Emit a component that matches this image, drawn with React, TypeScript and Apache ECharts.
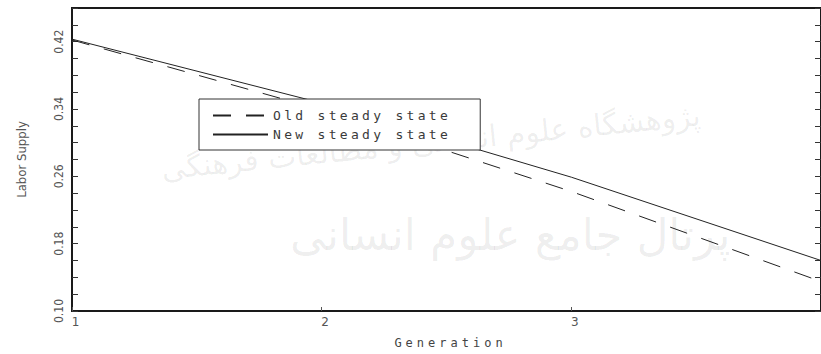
import React, { useEffect, useRef } from "react";
import * as echarts from "echarts";

// Labor supply by generation under the two steady states
const generations = [1, 2, 3, 4];
const oldSteadyState = [0.422, 0.339, 0.242, 0.135];
const newSteadyState = [0.423, 0.347, 0.259, 0.16];
const seriesNames = ["Old steady state", "New steady state"];

const Y_MIN = 0.1;
const Y_MAX = 0.46;
const Y_STEP = 0.02;
const Y_LABEL_EVERY = 4; // a label on every 0.08

const watermarkTop = "پژوهشگاه علوم انسانی و مطالعات فرهنگی";
const watermarkBottom = "پرتال جامع علوم انسانی";

const narrow = "'Liberation Sans Narrow', 'DejaVu Sans Condensed', 'Liberation Sans', sans-serif";
const plotter = "DejaVu Sans Mono";

export default function App() {
  const ref = useRef<HTMLDivElement>(null);

  useEffect(() => {
    if (!ref.current) return;
    const chart = echarts.init(ref.current, undefined, { renderer: "svg" });

    const yLabel = (v: number) => {
      const k = Math.round((v - Y_MIN) / Y_STEP);
      return k % Y_LABEL_EVERY === 0 && v < 0.44 ? v.toFixed(2) : "";
    };

    const yAxisBase = {
      type: "value" as const,
      min: Y_MIN,
      max: Y_MAX,
      interval: Y_STEP,
      splitLine: { show: false },
      axisLine: { show: true, lineStyle: { color: "#1a1a1a", width: 2 } },
      axisTick: { show: true, inside: true, length: 6, lineStyle: { color: "#333", width: 1 } },
    };

    chart.setOption({
      animation: false,
      backgroundColor: "#ffffff",
      grid: {
        left: 72,
        right: -5,
        top: 8,
        bottom: 41,
        show: true,
        borderColor: "#1a1a1a",
        borderWidth: 2,
        containLabel: false,
      },
      legend: {
        orient: "vertical",
        left: 199,
        top: 99,
        data: seriesNames,
        itemWidth: 55,
        itemHeight: 10,
        itemGap: 6,
        padding: [10, 82, 9, 13],
        borderColor: "#333",
        borderWidth: 1,
        backgroundColor: "#ffffff",
        itemStyle: { opacity: 0 },
        textStyle: { fontFamily: plotter, fontSize: 13, color: "#3a3a3a" },
        z: 5,
      },
      xAxis: {
        type: "value",
        min: 1,
        max: 4,
        interval: 1,
        name: "Generation",
        nameLocation: "middle",
        nameGap: 26,
        nameTextStyle: { fontFamily: plotter, fontSize: 12, color: "#444", padding: [0, 0, 0, 8] },
        splitLine: { show: false },
        axisLine: { show: true, onZero: false, lineStyle: { color: "#1a1a1a", width: 2 } },
        axisTick: { show: true, inside: true, length: 4, lineStyle: { color: "#555" } },
        axisLabel: {
          margin: 5,
          showMaxLabel: false,
          padding: [0, 0, 0, 7],
          fontFamily: "'DejaVu Sans', sans-serif",
          fontSize: 12,
          color: "#555",
          formatter: (v: number) => String(v),
        },
      },
      yAxis: [
        {
          ...yAxisBase,
          position: "left",
          name: "Labor Supply",
          nameLocation: "middle",
          nameGap: 44,
          nameRotate: 90,
          nameTextStyle: { fontFamily: narrow, fontSize: 13, color: "#555" },
          axisLabel: {
            rotate: 90,
            margin: 7,
            fontFamily: narrow,
            fontSize: 12,
            color: "#555",
            formatter: yLabel,
          },
        },
        {
          ...yAxisBase,
          position: "right",
          axisLabel: { show: false },
        },
      ],
      graphic: [
        {
          type: "text",
          left: 160,
          top: 100,
          rotation: 0.1,
          silent: true,
          z: -10,
          style: {
            text: watermarkTop,
            font: "30px 'DejaVu Sans', sans-serif",
            fill: "rgba(0,0,0,0.07)",
          },
        },
        {
          type: "text",
          left: 290,
          top: 212,
          silent: true,
          z: -10,
          style: {
            text: watermarkBottom,
            font: "44px 'DejaVu Sans', sans-serif",
            fill: "rgba(0,0,0,0.07)",
          },
        },
      ],
      series: [
        {
          name: seriesNames[0],
          type: "line",
          symbol: "none",
          data: generations.map((g, i) => [g, oldSteadyState[i]]),
          lineStyle: { color: "#222", width: 1, type: [18, 15] },
          itemStyle: { color: "#222" },
          z: 3,
        },
        {
          name: seriesNames[1],
          type: "line",
          symbol: "none",
          data: generations.map((g, i) => [g, newSteadyState[i]]),
          lineStyle: { color: "#222", width: 1, type: "solid" },
          itemStyle: { color: "#222" },
          z: 3,
        },
      ],
    });

    return () => chart.dispose();
  }, []);

  return (
    <>
      <style>{`
        #labor-chart text[style*="Mono"][style*="13px"] { letter-spacing: 3.3px; }
        #labor-chart text[style*="Mono"][style*="12px"] { letter-spacing: 4px; }
      `}</style>
      <div
        id="labor-chart"
        ref={ref}
        style={{ position: "absolute", left: 0, top: 0, width: 821, height: 354 }}
      />
    </>
  );
}
